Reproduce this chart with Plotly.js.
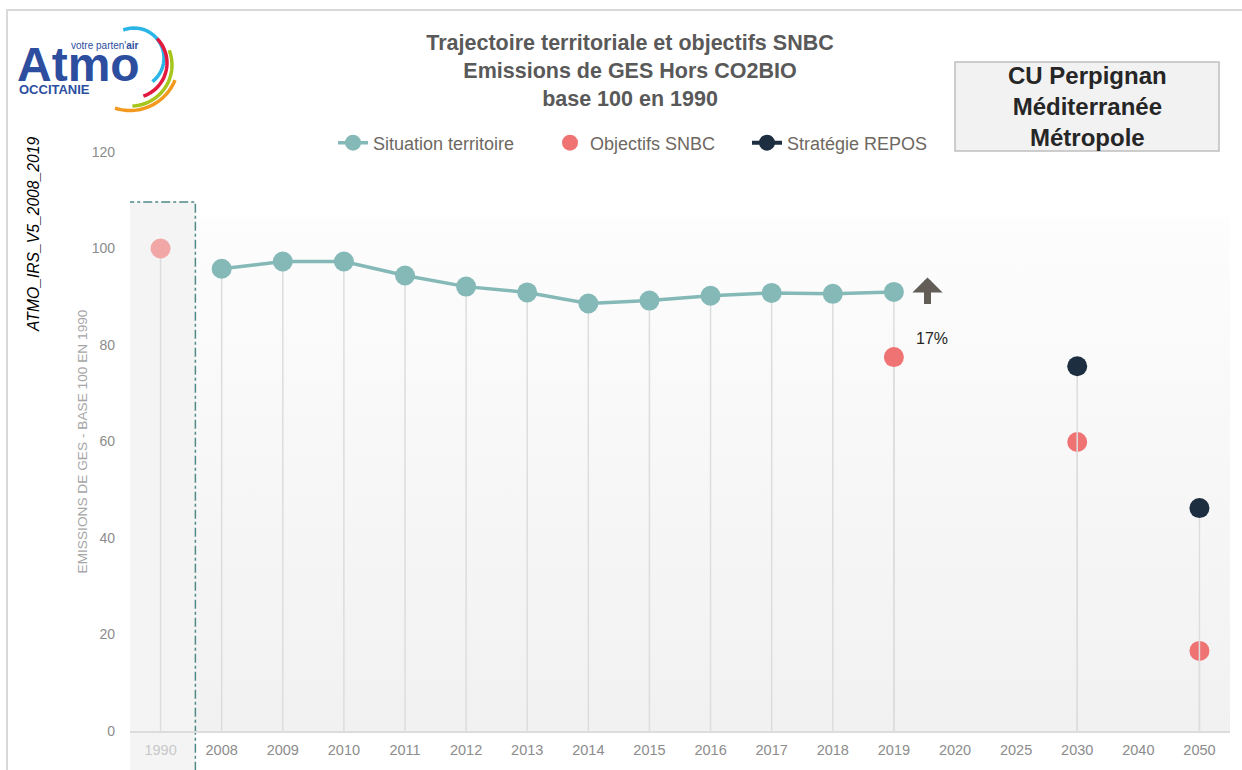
<!DOCTYPE html>
<html>
<head>
<meta charset="utf-8">
<script src="https://cdn.plot.ly/plotly-3.0.1.min.js"></script>
<style>
  html, body { margin: 0; padding: 0; background: #ffffff; }
  #chart { width: 1242px; height: 770px; }
</style>
</head>
<body>
<div id="chart"></div>
<script>
document.addEventListener("DOMContentLoaded", function (event) {

    var SANS = '"Liberation Sans", Arial, sans-serif';

    // axe des x (categories)
    var annees = ['1990', '2008', '2009', '2010', '2011', '2012', '2013', '2014', '2015',
                  '2016', '2017', '2018', '2019', '2020', '2025', '2030', '2040', '2050'];

    // Situation territoire
    var situation_x = ['2008', '2009', '2010', '2011', '2012', '2013', '2014', '2015',
                       '2016', '2017', '2018', '2019'];
    var situation_y = [95.8, 97.3, 97.3, 94.4, 92.1, 90.9, 88.6, 89.2, 90.2, 90.8, 90.6, 91.0];

    // Annee de reference
    var reference_x = ['1990'];
    var reference_y = [100];

    // Objectifs SNBC
    var snbc_x = ['2019', '2030', '2050'];
    var snbc_y = [77.5, 59.9, 16.6];

    // Strategie REPOS (2040 vide : pas de trait entre les points)
    var repos_x = ['2030', '2040', '2050'];
    var repos_y = [75.6, null, 46.2];

    var ecart_label = '17%';

    var colores = [];
    colores["situation"] = '#84b9b8';
    colores["snbc"] = '#ef7373';
    colores["snbc_1990"] = '#f2a7a7';
    colores["repos"] = '#1c2e40';
    colores["drop"] = '#dddddd';

    function dropLines(values) {
        return {
            type: 'data',
            symmetric: false,
            array: values.map(function () { return 0; }),
            arrayminus: values.map(function (v) { return v === null ? 0 : v; }),
            color: colores["drop"],
            thickness: 1.5,
            width: 0
        };
    }

    var traces = [{
        x: reference_x,
        y: reference_y,
        name: 'Objectifs SNBC',
        legendgroup: 'snbc',
        showlegend: false,
        type: 'scatter',
        mode: 'markers',
        marker: { color: colores["snbc_1990"], size: 20 },
        error_y: dropLines(reference_y)
    }, {
        x: situation_x,
        y: situation_y,
        name: 'Situation territoire',
        legendwidth: 172,
        type: 'scatter',
        mode: 'lines+markers',
        line: { color: colores["situation"], width: 3.5 },
        marker: { color: colores["situation"], size: 20 },
        error_y: dropLines(situation_y)
    }, {
        x: snbc_x,
        y: snbc_y,
        name: 'Objectifs SNBC',
        legendgroup: 'snbc',
        legendwidth: 152,
        type: 'scatter',
        mode: 'markers',
        marker: { color: colores["snbc"], size: 20 },
        error_y: dropLines(snbc_y)
    }, {
        x: repos_x,
        y: repos_y,
        name: 'Stratégie REPOS',
        legendwidth: 160,
        type: 'scatter',
        mode: 'lines+markers',
        connectgaps: false,
        line: { color: colores["repos"], width: 4 },
        marker: { color: colores["repos"], size: 20 },
        error_y: dropLines(repos_y)
    }];

    // pixels -> coordonnees papier (zone de trace : x 130..1230, y 152..731)
    function px(x) { return (x - 130) / 1100; }
    function py(y) { return (731 - y) / 579; }
    // arc du logo, en pixels (centre, rayon, angles en degres)
    function arc(cx, cy, r, a0, a1) {
        var d = '';
        for (var i = 0; i <= 24; i++) {
            var a = (a0 + (a1 - a0) * i / 24) * Math.PI / 180;
            d += (i === 0 ? 'M' : 'L') + px(cx + r * Math.cos(a)) + ',' + py(cy + r * Math.sin(a));
        }
        return d;
    }

    var gradient = 'data:image/svg+xml;utf8,' + encodeURIComponent(
        '<svg xmlns="http://www.w3.org/2000/svg" width="10" height="100" viewBox="0 0 10 100" preserveAspectRatio="none">' +
        '<defs><linearGradient id="g" x1="0" y1="0" x2="0" y2="1">' +
        '<stop offset="0" stop-color="#fdfdfd"/><stop offset="1" stop-color="#f1f1f1"/>' +
        '</linearGradient></defs><rect width="10" height="100" fill="url(#g)"/></svg>');

    var ticktext = annees.map(function (a) {
        return a === '1990' ? '<span style="color:#c8c8c8">' + a + '</span>' : a;
    });

    var layout = {
        width: 1242,
        height: 770,
        margin: { l: 130, r: 12, t: 152, b: 39 },
        paper_bgcolor: '#ffffff',
        plot_bgcolor: 'rgba(0,0,0,0)',
        font: { family: SANS, size: 15, color: '#8c8c8c' },
        title: {
            text: 'Trajectoire territoriale et objectifs SNBC<br>Emissions de GES Hors CO2BIO<br>base 100 en 1990',
            font: { family: SANS, size: 21.5, color: '#595959', weight: 'bold' },
            xref: 'paper',
            x: px(630),
            xanchor: 'center',
            yref: 'container',
            y: 1 - 50 / 770,
            yanchor: 'top'
        },
        showlegend: true,
        legend: {
            orientation: 'h',
            x: px(333),
            xanchor: 'left',
            y: py(143),
            yanchor: 'middle',
            font: { family: SANS, size: 18, color: '#6e6862' },
            bgcolor: 'rgba(0,0,0,0)',
            entrywidthmode: 'pixels',
            tracegroupgap: 0
        },
        xaxis: {
            type: 'category',
            categoryorder: 'array',
            categoryarray: annees,
            tickvals: annees,
            ticktext: ticktext,
            range: [-0.5, annees.length - 0.5],
            showgrid: false,
            zeroline: false,
            showline: true,
            linecolor: '#dcdcdc',
            linewidth: 1.5,
            ticks: '',
            ticklabelstandoff: 5,
            tickfont: { family: SANS, size: 14.5, color: '#8c8c8c' },
            fixedrange: true
        },
        yaxis: {
            range: [0, 120],
            dtick: 20,
            showgrid: false,
            zeroline: false,
            showline: false,
            ticks: '',
            ticklabelstandoff: 14,
            tickfont: { family: SANS, size: 14, color: '#8c8c8c' },
            title: {
                text: 'EMISSIONS DE GES - BASE 100 EN 1990',
                font: { family: SANS, size: 13.7, color: '#a6a6a6' },
                standoff: 0
            },
            fixedrange: true
        },
        images: [{
            source: gradient,
            xref: 'paper', yref: 'paper',
            x: 0, y: py(217),
            sizex: 1, sizey: py(217),
            xanchor: 'left', yanchor: 'top',
            sizing: 'stretch',
            layer: 'below'
        }],
        shapes: [
            // cadre general
            { type: 'rect', xref: 'paper', yref: 'paper', x0: px(7), x1: px(1250), y0: py(790), y1: py(10),
              line: { color: '#d9d9d9', width: 2 }, fillcolor: 'rgba(0,0,0,0)', layer: 'below' },
            // encadre 1990
            { type: 'rect', xref: 'x', yref: 'paper', x0: -0.54, x1: 0.57, y0: py(775), y1: py(202),
              line: { color: '#4f8a88', width: 1.5, dash: 'dashdot' }, fillcolor: '#f4f4f4', layer: 'below' },
            // encadre territoire
            { type: 'rect', xref: 'paper', yref: 'paper', x0: px(955), x1: px(1219), y0: py(151), y1: py(62),
              line: { color: '#bfbfbf', width: 1.5 }, fillcolor: '#f2f2f2', layer: 'below' },
            // logo : arcs
            { type: 'path', xref: 'paper', yref: 'paper', path: arc(134, 58, 30, -111, 52),
              line: { color: '#2bb5e6', width: 3.5 } },
            { type: 'path', xref: 'paper', yref: 'paper', path: arc(132, 63, 35, -44, 71),
              line: { color: '#e3193f', width: 3.5 } },
            { type: 'path', xref: 'paper', yref: 'paper', path: arc(131, 65, 41, -21, 88),
              line: { color: '#a6c51d', width: 3.5 } },
            { type: 'path', xref: 'paper', yref: 'paper', path: arc(130, 62, 48.5, 22, 108),
              line: { color: '#f39a1e', width: 3.5 } }
        ],
        annotations: [{
            // fleche ecart
            xref: 'x', yref: 'y',
            x: 12.55, y: 94,
            ax: 0, ay: 28,
            text: '',
            showarrow: true,
            arrowhead: 1,
            arrowsize: 0.72,
            arrowwidth: 7,
            arrowcolor: '#625d57'
        }, {
            xref: 'x', yref: 'y',
            x: 12.62, y: 81.4,
            xanchor: 'center', yanchor: 'middle',
            text: ecart_label,
            showarrow: false,
            font: { family: SANS, size: 16, color: '#262626' }
        }, {
            xref: 'paper', yref: 'paper',
            x: px(33), y: py(235),
            xanchor: 'center', yanchor: 'middle',
            text: 'ATMO_IRS_V5_2008_2019',
            textangle: -90,
            showarrow: false,
            font: { family: SANS, size: 15.7, color: '#000000', style: 'italic' }
        }, {
            xref: 'paper', yref: 'paper',
            x: px(1087), y: py(107),
            xanchor: 'center', yanchor: 'middle',
            text: 'CU Perpignan<br>Méditerranée<br>Métropole',
            showarrow: false,
            font: { family: SANS, size: 24, color: '#262626', weight: 'bold' }
        }, {
            xref: 'paper', yref: 'paper',
            x: px(15), y: py(64),
            xanchor: 'left', yanchor: 'middle',
            text: 'Atmo',
            showarrow: false,
            font: { family: SANS, size: 48, color: '#2d4e9f', weight: 'bold' }
        }, {
            xref: 'paper', yref: 'paper',
            x: px(69), y: py(46),
            xanchor: 'left', yanchor: 'middle',
            text: "votre parten'<b>air</b>",
            showarrow: false,
            font: { family: SANS, size: 10, color: '#2d4e9f' }
        }, {
            xref: 'paper', yref: 'paper',
            x: px(17), y: py(89),
            xanchor: 'left', yanchor: 'middle',
            text: 'OCCITANIE',
            showarrow: false,
            font: { family: SANS, size: 13, color: '#2d4e9f', weight: 'bold' }
        }]
    };

    Plotly.newPlot('chart', traces, layout, { displayModeBar: false, staticPlot: true });

});
</script>
</body>
</html>
